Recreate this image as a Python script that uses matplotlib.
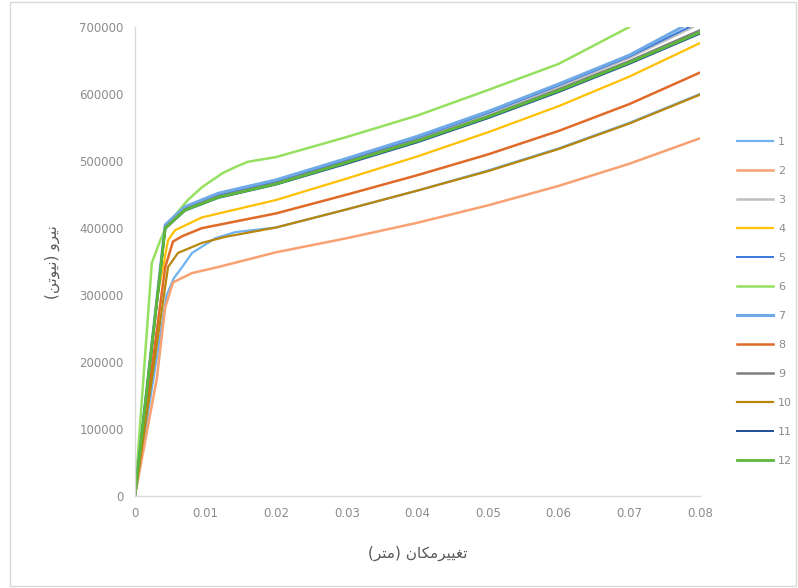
import matplotlib.pyplot as plt
from matplotlib.patches import Rectangle

# series data (displacement m, force N)
x1 = [0, 0.0045, 0.0055, 0.0067, 0.0081, 0.0114, 0.0142, 0.02, 0.03, 0.04, 0.05, 0.06, 0.07, 0.08]
y1 = [0, 300000, 325000, 342000, 363000, 385000, 394000, 401000, 428000, 456000, 486000, 519000, 557000, 600000]

x2 = [0, 0.0031, 0.0043, 0.0054, 0.0081, 0.0118, 0.02, 0.03, 0.04, 0.05, 0.06, 0.07, 0.08]
y2 = [0, 175000, 282000, 319000, 333000, 342000, 364000, 385000, 408000, 434000, 463000, 496000, 534000]

x3 = [0, 0.0043, 0.0071, 0.0118, 0.02, 0.03, 0.04, 0.05, 0.06, 0.07, 0.079]
y3 = [0, 402000, 429000, 449000, 469000, 501000, 534000, 571000, 611000, 654000, 700000]

x4 = [0, 0.0031, 0.0047, 0.0057, 0.0095, 0.02, 0.03, 0.04, 0.05, 0.06, 0.07, 0.08]
y4 = [0, 293000, 382000, 397000, 416000, 442000, 474000, 507000, 543000, 582000, 626000, 676000]

x5 = [0, 0.0043, 0.0071, 0.0118, 0.02, 0.03, 0.04, 0.05, 0.06, 0.07, 0.0785]
y5 = [0, 403000, 430000, 450000, 470000, 502000, 535000, 572000, 613000, 656000, 700000]

x6 = [0, 0.0024, 0.0036, 0.0047, 0.0075, 0.0095, 0.0124, 0.0142, 0.016, 0.02, 0.03, 0.04, 0.05, 0.06, 0.07]
y6 = [0, 348000, 382000, 407000, 442000, 461000, 482000, 491000, 499000, 506000, 536000, 568000, 606000, 645000, 700000]

x7 = [0, 0.0043, 0.0071, 0.0118, 0.02, 0.03, 0.04, 0.05, 0.06, 0.07, 0.0775]
y7 = [0, 405000, 432000, 452000, 472000, 504000, 537000, 574000, 615000, 658000, 700000]

x8 = [0, 0.0043, 0.0054, 0.0067, 0.0095, 0.02, 0.03, 0.04, 0.05, 0.06, 0.07, 0.08]
y8 = [0, 342000, 380000, 388000, 400000, 422000, 450000, 479000, 510000, 545000, 585000, 632000]

x9 = [0, 0.0043, 0.0071, 0.0118, 0.02, 0.03, 0.04, 0.05, 0.06, 0.07, 0.08]
y9 = [0, 401000, 428000, 447000, 467000, 499000, 531000, 567000, 607000, 649000, 695000]

x10 = [0, 0.0047, 0.0061, 0.0095, 0.0128, 0.02, 0.03, 0.04, 0.05, 0.06, 0.07, 0.08]
y10 = [0, 342000, 363000, 378000, 387000, 401000, 428000, 456000, 485000, 518000, 556000, 599000]

x11 = [0, 0.0043, 0.0071, 0.0118, 0.02, 0.03, 0.04, 0.05, 0.06, 0.07, 0.08]
y11 = [0, 399000, 426000, 445000, 465000, 496000, 528000, 564000, 603000, 645000, 690000]

x12 = [0, 0.0043, 0.0071, 0.0118, 0.02, 0.03, 0.04, 0.05, 0.06, 0.07, 0.08]
y12 = [0, 400000, 427000, 446000, 466000, 498000, 530000, 566000, 605000, 647000, 692000]

series_x = [x1, x2, x3, x4, x5, x6, x7, x8, x9, x10, x11, x12]
series_y = [y1, y2, y3, y4, y5, y6, y7, y8, y9, y10, y11, y12]
names = ["1", "2", "3", "4", "5", "6", "7", "8", "9", "10", "11", "12"]
colors = ["#6FB2F0", "#F8A172", "#BFBFBF", "#FFC000", "#3A78DC", "#96E060",
          "#6FAAE6", "#E06A28", "#7F7F7F", "#B8860B", "#1F4E9A", "#5DB83A"]
widths = [1.6, 1.8, 1.8, 1.6, 1.4, 1.8, 2.2, 1.8, 1.8, 1.6, 1.4, 2.0]

x_ticks = [0, 0.01, 0.02, 0.03, 0.04, 0.05, 0.06, 0.07, 0.08]
x_tick_labels = ["0", "0.01", "0.02", "0.03", "0.04", "0.05", "0.06", "0.07", "0.08"]
y_ticks = [0, 100000, 200000, 300000, 400000, 500000, 600000, 700000]

# Persian labels written as presentation forms in visual order (no shaping in matplotlib)
x_label = "(\uFEAE\uFE98\uFEE3) \uFEE5\uFE8E\uFB91\uFEE3\uFEAE\uFBFF\uFBFF\uFED0\uFE97"  # تغییرمکان (متر)
y_label = "(\uFEE6\uFE97\uFEEE\uFBFF\uFEE7) \uFEED\uFEAE\uFBFF\uFEE7"  # نیرو (نیوتن)

fig = plt.figure(figsize=(7.98, 5.88), dpi=100)
ax = fig.add_axes([0.169, 0.156, 0.708, 0.798])

for i in range(len(names)):
    ax.plot(series_x[i], series_y[i], color=colors[i], lw=widths[i], label=names[i])

ax.set_xlim(0, 0.08)
ax.set_ylim(0, 700000)
ax.set_xticks(x_ticks)
ax.set_xticklabels(x_tick_labels)
ax.set_yticks(y_ticks)
ax.set_yticklabels([str(v) for v in y_ticks])
ax.tick_params(length=0, labelsize=8.5, labelcolor="#8C8C8C", pad=8)

for s in ["top", "right"]:
    ax.spines[s].set_visible(False)
for s in ["left", "bottom"]:
    ax.spines[s].set_color("#D9D9D9")
    ax.spines[s].set_linewidth(1.0)

ax.set_xlabel(x_label, family=["DejaVu Sans"], fontsize=11, color="#595959", labelpad=18)
ax.set_ylabel(y_label, family=["DejaVu Sans"], fontsize=11, color="#595959", labelpad=14)

fig.legend(loc="center left", bbox_to_anchor=(0.923, 0.488), frameon=False,
           fontsize=8, handlelength=3.3, labelspacing=1.71, handletextpad=0.45,
           labelcolor="#8C8C8C", borderaxespad=0, borderpad=0)

fig.patches.append(Rectangle((0.012, 0.004), 0.985, 0.992, transform=fig.transFigure,
                             fill=False, edgecolor="#D9D9D9", lw=1.0))

fig.savefig("out.png", dpi=100)
